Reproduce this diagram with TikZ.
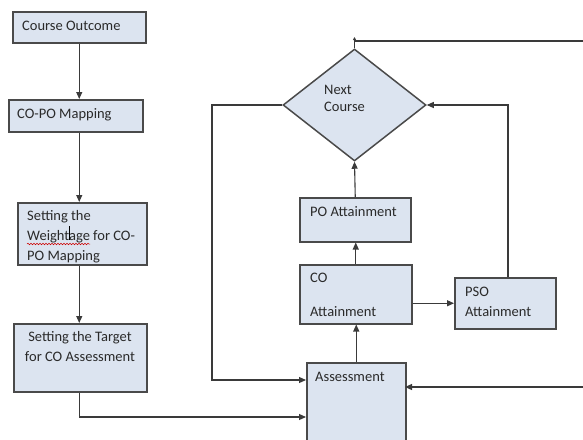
\documentclass[tikz,border=0pt]{standalone}
\usepackage{fontspec}
\setmainfont{Carlito}
\usetikzlibrary{arrows.meta,shapes.geometric,decorations.pathmorphing}
\definecolor{boxfill}{HTML}{DCE4F0}
\definecolor{boxline}{HTML}{4A4A4A}
\definecolor{conncol}{HTML}{3A3A3A}
\definecolor{txt}{HTML}{2A2A2A}
\tikzset{
  box/.style={draw=boxline, line width=1.5pt, fill=boxfill, rectangle, anchor=north west, inner sep=0},
  lbl/.style={text=txt, inner sep=0, anchor=west, font=\fontsize{14.5}{20}\selectfont},
  conn/.style={draw=conncol, line width=1.1pt},
  arr/.style={conn, -{Triangle[length=7pt,width=6pt]}},
}
\begin{document}
\begin{tikzpicture}[x=1pt,y=-1pt]
\useasboundingbox (0,0) rectangle (583,439);
\clip (0,0) rectangle (583,439);
% left column boxes
\node[box, minimum width=133, minimum height=31] (co) at (12,11) {};
\node[box, minimum width=134, minimum height=32] (copo) at (8,99) {};
\node[box, minimum width=129, minimum height=62] (wt) at (17,202) {};
\node[box, minimum width=133, minimum height=68] (tgt) at (13,323) {};
% right part
\node[draw=boxline, line width=1.5pt, fill=boxfill, diamond, aspect=1.277, minimum width=143, minimum height=112, inner sep=0] (nc) at (354.5,105) {};
\node[box, minimum width=111, minimum height=44] (po) at (299,197) {};
\node[box, minimum width=112, minimum height=59] (coa) at (299,264) {};
\node[box, minimum width=101, minimum height=51] (pso) at (454,277) {};
\node[box, minimum width=99, minimum height=100] (ass) at (306,362) {};
% labels
\node[lbl] (tco) at (22,26) {Course Outcome};
\node[lbl] (tcopo) at (17,115) {CO-PO Mapping};
\node[lbl, align=left] (twt) at (27,237) {Setting the\\Weightage for CO-\\PO Mapping};
\node[lbl, align=center, anchor=center] (ttgt) at (80,347) {Setting the Target\\for CO Assessment};
\node[lbl, align=left, font=\fontsize{14.5}{17}\selectfont] (tnc) at (324,98.5) {Next\\Course};
\node[lbl] (tpo) at (310,212) {PO Attainment};
\node[lbl] (tco1) at (310,278) {CO};
\node[lbl] (tco2) at (310,312) {Attainment};
\node[lbl, align=left] (tpso) at (465,302) {PSO\\Attainment};
\node[lbl] (tass) at (315,377) {Assessment};
% spell-check squiggle and cursor
\draw[red!80!black, line width=0.5pt, decorate, decoration={snake, amplitude=0.8pt, segment length=3pt}] (27,244) -- (90,244);
\draw[black, line width=0.8pt] (69,226) -- (69,240);
% helper coordinates
\coordinate (lx) at (212,0);
\coordinate (rx) at (508,0);
\coordinate (a1) at (306,380);
\coordinate (a2) at (306,417);
\coordinate (a3) at (405,387);
\coordinate (rin) at (583,387);
\coordinate (tr) at (583,41);
\coordinate (tl) at (355,41);
\coordinate (tt) at (354.5,37);
% connectors left column
\draw[arr] (co.south) -- (co.south |- copo.north);
\draw[arr] (co.south |- copo.south) -- (co.south |- wt.north);
\draw[arr] (co.south |- wt.south) -- (co.south |- tgt.north);
\draw[arr] (co.south |- tgt.south) |- (a2);
% connectors right part
\draw[arr] (ass.north) -- (ass.north |- coa.south);
\draw[arr] (coa.north) -- (coa.north |- po.south);
\draw[arr] (po.north) -- (nc.south);
\draw[arr] (coa.east |- pso.west) -- (pso.west);
\draw[arr] (pso.north -| rx) |- (nc.east);
\draw[arr] (nc.west) -- (nc.west -| lx) |- (a1);
\draw[arr] (rin) -- (a3);
\draw[conn] (tr) -- (tl);
\draw[conn, -{Triangle[length=3pt,width=3pt]}] (nc.north) -- (tt);
\end{tikzpicture}
\end{document}
